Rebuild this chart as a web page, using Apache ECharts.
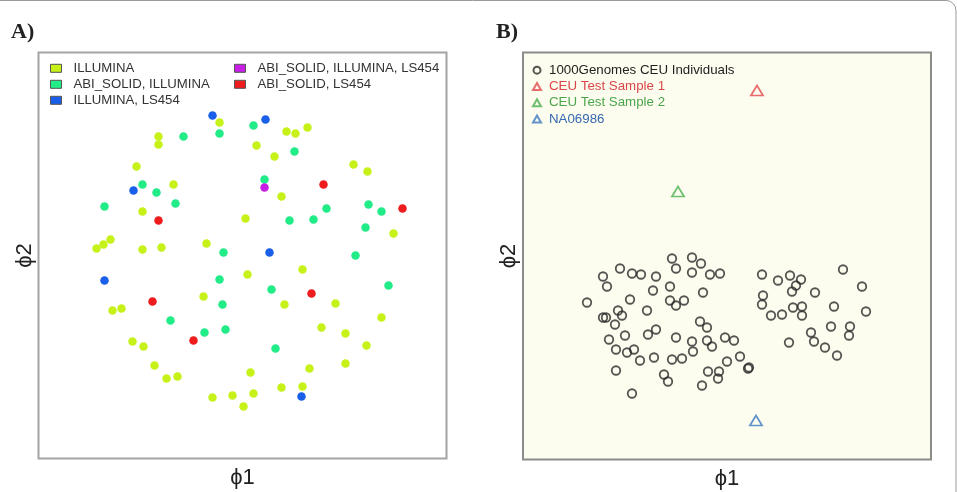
<!DOCTYPE html>
<html>
<head>
<meta charset="utf-8">
<script src="https://cdn.jsdelivr.net/npm/echarts@6/dist/echarts.min.js"></script>
<style>
html,body{margin:0;padding:0;background:#fff;}
#chart{width:957px;height:492px;}
</style>
</head>
<body>
<div id="chart"></div>
<script>
// ---------- Panel A data: [phi1, phi2] ----------
var seriesNamesA = ['ILLUMINA', 'ABI_SOLID, ILLUMINA', 'ILLUMINA, LS454', 'ABI_SOLID, ILLUMINA, LS454', 'ABI_SOLID, LS454'];
var illumina = [
  [181,336],[120,322],[120,314],[248,327],[257,325],[269,331],[218,313],[236,302],[98,292],[315,294],
  [329,287],[135,274],[243,262],[104,247],[207,240],[355,225],[58,210],[65,214],[72,219],[104,209],
  [123,211],[168,215],[264,189],[209,184],[165,162],[246,154],[297,155],[74,148],[83,150],[283,131],
  [307,125],[343,141],[94,117],[105,112],[328,113],[116,93],[307,95],[128,80],[139,82],[212,86],
  [271,90],[174,61],[194,63],[215,65],[243,71],[264,72],[205,52]
];
var abiIllumina = [
  [145,322],[181,325],[215,333],[256,307],[226,279],[104,274],[118,266],[137,255],[66,252],[288,250],
  [330,254],[343,247],[251,238],[275,239],[327,231],[185,206],[317,203],[181,179],[233,169],[350,173],
  [184,154],[132,138],[166,126],[187,129],[237,110]
];
var illuminaLs454 = [[174,343],[227,339],[95,268],[231,206],[66,178],[263,62]];
var abiIlluminaLs454 = [[226,271]];
var abiLs454 = [[285,274],[364,250],[120,238],[273,165],[114,157],[155,118]];

// ---------- Panel B data: [phi1, phi2] ----------
var seriesNamesB = ['1000Genomes CEU Individuals', 'CEU Test Sample 1', 'CEU Test Sample 2', 'NA06986'];
var ceuIndividuals = [
  [149,201],[169,202],[178,196],[153,191],[97,191],[109,186],[118,185],[133,183],[169,187],[187,185],
  [197,186],[80,183],[84,173],[147,173],[130,169],[180,167],[64,157],[107,160],[147,159],[161,159],
  [153,154],[124,149],[95,149],[99,144],[80,142],[83,142],[92,135],[177,138],[184,132],[102,124],
  [125,125],[133,130],[86,120],[153,122],[169,118],[184,119],[202,122],[211,119],[189,113],[93,110],
  [104,107],[111,110],[117,99],[131,102],[149,100],[159,101],[170,108],[204,98],[217,103],[226,92],
  [225,91],[93,89],[141,85],[145,78],[185,88],[196,88],[195,81],[179,74],[109,66],
  [239,185],[267,184],[278,180],[255,179],[273,174],[269,168],[292,167],[320,190],[339,173],[240,164],
  [239,155],[270,152],[279,153],[279,144],[248,144],[259,145],[311,153],[343,148],[308,133],[327,133],
  [326,124],[288,127],[291,118],[302,112],[266,117],[314,104]
];
var testSample1 = [[234,369]];
var testSample2 = [[155,268]];
var na06986 = [[233,39]];

var colorsA = ['#C6F21A', '#22EC88', '#1A5FEA', '#C81EE6', '#EE1C1C'];
var dataA = [illumina, abiIllumina, illuminaLs454, abiIlluminaLs454, abiLs454];
var colorsB = ['#2a2a2a', '#E0474C', '#4CAF50', '#3A78C0'];
var textColorsB = ['#222222', '#D9474B', '#4AA64C', '#3468B0'];
var dataB = [ceuIndividuals, testSample1, testSample2, na06986];

var chart = echarts.init(document.getElementById('chart'), null, {renderer: 'canvas'});

function hiddenAxis(idx, min, max, name, isY) {
  var ax = {
    type: 'value', gridIndex: idx, min: min, max: max,
    axisLine: {show: false}, axisTick: {show: false}, axisLabel: {show: false}, splitLine: {show: false},
    name: name, nameLocation: 'middle', nameGap: isY ? 3 : 8,
    nameTextStyle: {fontFamily: 'Liberation Sans', fontSize: 22, color: '#222'}
  };
  if (isY) ax.nameRotate = 90;
  return ax;
}

var series = [];
seriesNamesA.forEach(function (n, i) {
  series.push({
    name: n, type: 'scatter', xAxisIndex: 0, yAxisIndex: 0,
    data: dataA[i], symbol: 'circle', symbolSize: 8.5,
    itemStyle: {color: colorsA[i], opacity: 1},
    emphasis: {disabled: true}
  });
});
seriesNamesB.forEach(function (n, i) {
  var isCircle = i === 0;
  series.push({
    name: n, type: 'scatter', xAxisIndex: 1, yAxisIndex: 1,
    data: dataB[i], symbol: isCircle ? 'circle' : 'triangle',
    symbolSize: isCircle ? 8.5 : [12, 10],
    itemStyle: {color: 'rgba(0,0,0,0)', borderColor: colorsB[i], borderWidth: 1.8},
    emphasis: {disabled: true}
  });
});

var option = {
  animation: false,
  backgroundColor: '#ffffff',
  title: [
    {text: 'A)', left: 11, top: 21, padding: 0,
     textStyle: {fontFamily: 'Liberation Serif', fontWeight: 'bold', fontSize: 22, color: '#222'}},
    {text: 'B)', left: 496, top: 21, padding: 0,
     textStyle: {fontFamily: 'Liberation Serif', fontWeight: 'bold', fontSize: 22, color: '#222'}}
  ],
  grid: [
    {left: 38.5, top: 52.5, width: 408, height: 406, show: true, backgroundColor: '#ffffff',
     borderColor: '#a4a4a4', borderWidth: 2, outerBoundsMode: 'none', containLabel: false},
    {left: 523, top: 52.5, width: 408, height: 407, show: true, backgroundColor: '#FDFDEF',
     borderColor: '#8c8c8c', borderWidth: 2, outerBoundsMode: 'none', containLabel: false}
  ],
  xAxis: [hiddenAxis(0, 0, 408, 'ϕ1', false), hiddenAxis(1, 0, 408, 'ϕ1', false)],
  yAxis: [hiddenAxis(0, 0, 406, 'ϕ2', true), hiddenAxis(1, 0, 407, 'ϕ2', true)],
  legend: [
    {left: 50, top: 60.3, orient: 'vertical', itemGap: 0, itemWidth: 11, itemHeight: 8, icon: 'rect',
     padding: 0, selectedMode: false,
     itemStyle: {borderColor: '#555', borderWidth: 1},
     textStyle: {fontFamily: 'Liberation Sans', fontSize: 13.2, color: '#333', lineHeight: 16, padding: [0, 0, 0, 7]},
     data: seriesNamesA.slice(0, 3)},
    {left: 234, top: 60.3, orient: 'vertical', itemGap: 0, itemWidth: 11, itemHeight: 8, icon: 'rect',
     padding: 0, selectedMode: false,
     itemStyle: {borderColor: '#555', borderWidth: 1},
     textStyle: {fontFamily: 'Liberation Sans', fontSize: 13.2, color: '#333', lineHeight: 16, padding: [0, 0, 0, 7]},
     data: seriesNamesA.slice(3)},
    {left: 532, top: 62, orient: 'vertical', itemGap: 0, itemWidth: 8, itemHeight: 7,
     padding: 0, selectedMode: false,
     textStyle: {fontFamily: 'Liberation Sans', fontSize: 13.3, lineHeight: 16.3, padding: [0, 0, 0, 3]},
     data: seriesNamesB.map(function (n, i) {
       return {name: n, textStyle: {color: textColorsB[i]}};
     })}
  ],
  graphic: [
    {type: 'rect', silent: true, z: -1,
     shape: {x: -20, y: 0.5, width: 976, height: 600, r: 10},
     style: {fill: 'none', stroke: '#9a9a9a', lineWidth: 1}}
  ],
  series: series
};
chart.setOption(option);
</script>
</body>
</html>
